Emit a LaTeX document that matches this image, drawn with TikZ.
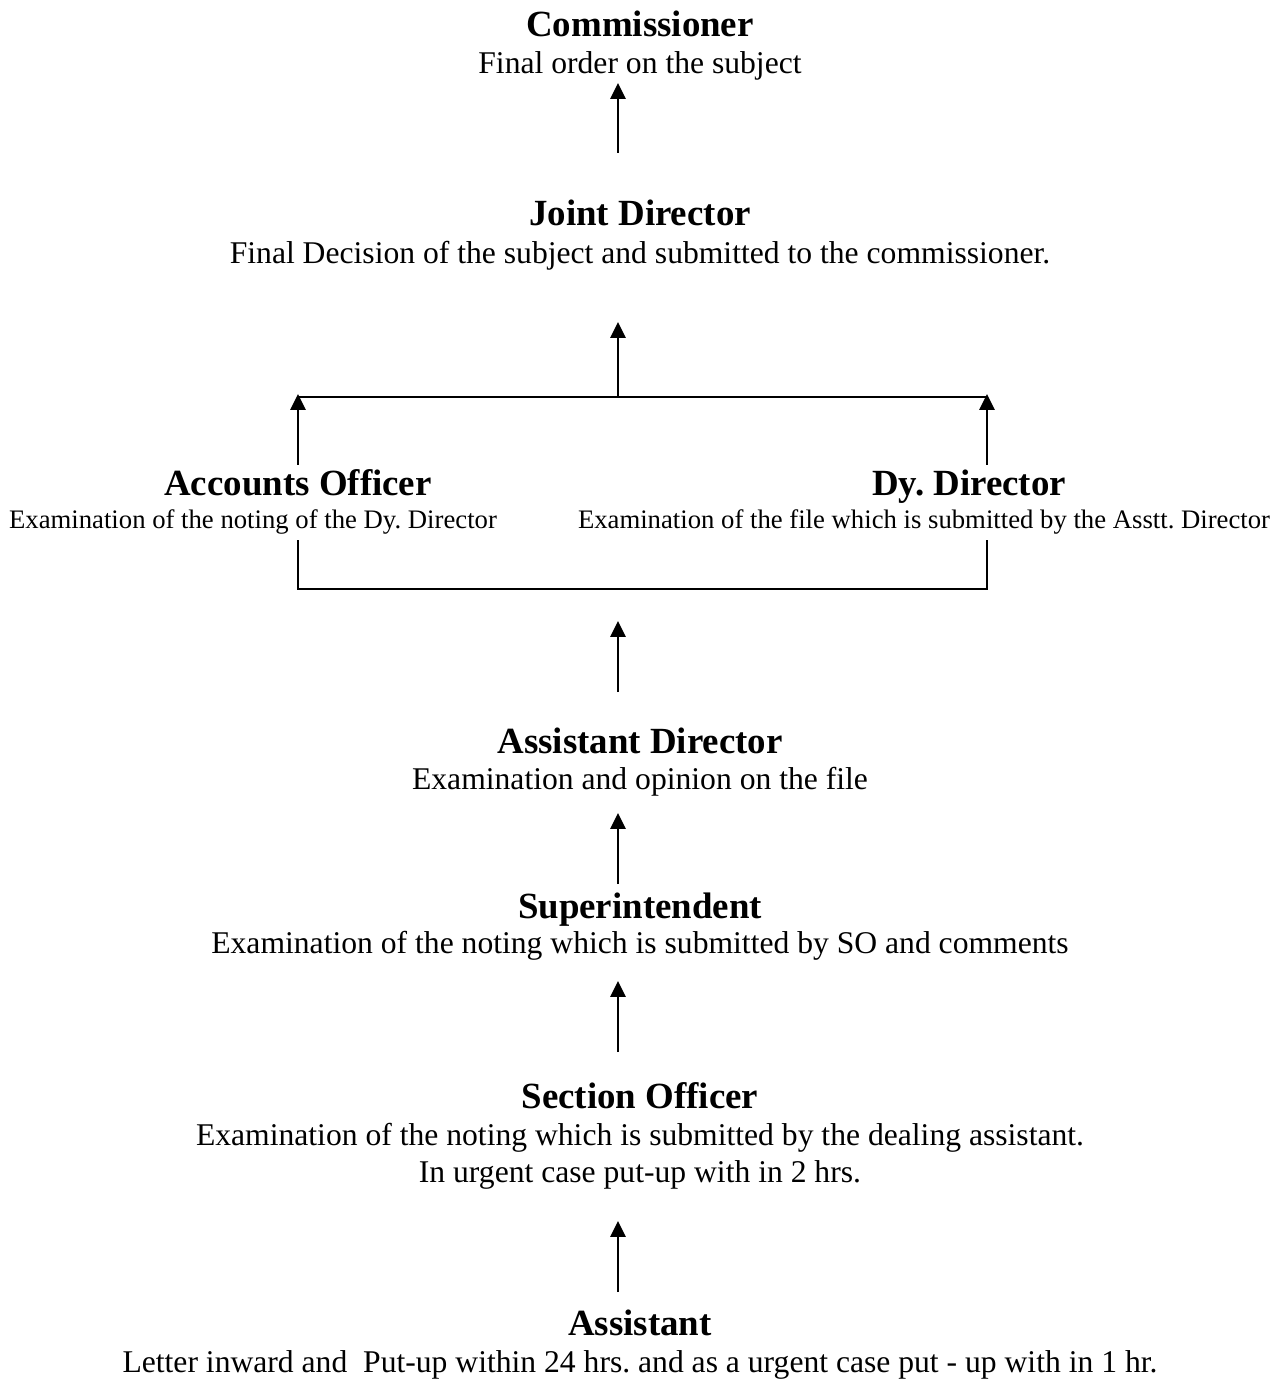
\documentclass[tikz,border=0pt]{standalone}
\usepackage{fontspec}
\setmainfont{Liberation Serif}
\usetikzlibrary{arrows.meta}
\frenchspacing

\tikzset{
  head/.style={anchor=base,inner sep=0pt,font=\fontsize{21}{25}\selectfont\bfseries},
  duty/.style={anchor=base,inner sep=0pt,align=center,font=\fontsize{18}{21}\selectfont},
  smallduty/.style={duty,font=\fontsize{15.2}{18}\selectfont},
  uparr/.style={-{Triangle[length=9pt,width=8.6pt]},line width=1.1pt},
  link/.style={line width=1.1pt}
}

\begin{document}
\begin{tikzpicture}[x=0.02cm,y=-0.02cm]
            \useasboundingbox (0,0) rectangle (1285,1381);

            \node[head] (C) at (640,37) {Commissioner};
            \node[duty] (Ct) at (640,74) {Final order on the subject};
            \node[head] (J) at (640,226) {Joint Director};
            \node[duty] (Jt) at (640,264) {Final Decision of the subject and submitted to the commissioner.};
            \node[head] (AO) at (298,495) {Accounts Officer};
            \node[smallduty] (AOt) at (253,528) {Examination of the noting of the Dy. Director};
            \node[head] (DD) at (969,495) {Dy. Director};
            \node[smallduty] (DDt) at (924,528) {Examination of the file which is submitted by the Asstt. Director};
            \node[head] (AD) at (640,753) {Assistant Director};
            \node[duty] (ADt) at (640,789) {Examination and opinion on the file};
            \node[head] (S) at (640,918) {Superintendent};
            \node[duty] (St) at (640,953) {Examination of the noting which is submitted by SO and comments};
            \node[head] (SO) at (640,1108) {Section Officer};
            \node[duty] (SOt) at (640,1182) {Examination of the noting which is submitted by the dealing assistant.\\In urgent case put-up with in 2 hrs.};
            \node[head] (A) at (640,1335) {Assistant};
            \node[duty] (At) at (640,1372) {Letter inward and~ Put-up within 24 hrs. and as a urgent case put - up with in 1 hr.};

            % arrow ends
            \coordinate (c1) at (618,153);
            \coordinate (c2) at (618,83);
            \coordinate (j1) at (618,397);
            \coordinate (j2) at (618,322);
            \coordinate (jl) at (298,397);
            \coordinate (jr) at (987,397);
            \coordinate (ao1) at (298,465);
            \coordinate (ao2) at (298,394);
            \coordinate (dd1) at (987,465);
            \coordinate (dd2) at (987,394);
            \coordinate (ao3) at (298,540);
            \coordinate (dd3) at (987,540);
            \coordinate (bl) at (298,589);
            \coordinate (br) at (987,589);
            \coordinate (b1) at (618,692);
            \coordinate (b2) at (618,621);
            \coordinate (ad1) at (618,884);
            \coordinate (ad2) at (618,813);
            \coordinate (s1) at (618,1052);
            \coordinate (s2) at (618,981);
            \coordinate (so1) at (618,1292);
            \coordinate (so2) at (618,1221);

            \path (c1) edge[uparr] (c2);
            \path (j1) edge[uparr] (j2);
            \path (jl) edge[link] (jr);
            \path (ao1) edge[uparr] (ao2);
            \path (dd1) edge[uparr] (dd2);
            \draw[link] (ao3) -- (bl) -- (br) -- (dd3);
            \path (b1) edge[uparr] (b2);
            \path (ad1) edge[uparr] (ad2);
            \path (s1) edge[uparr] (s2);
            \path (so1) edge[uparr] (so2);
        \end{tikzpicture}
\end{document}
